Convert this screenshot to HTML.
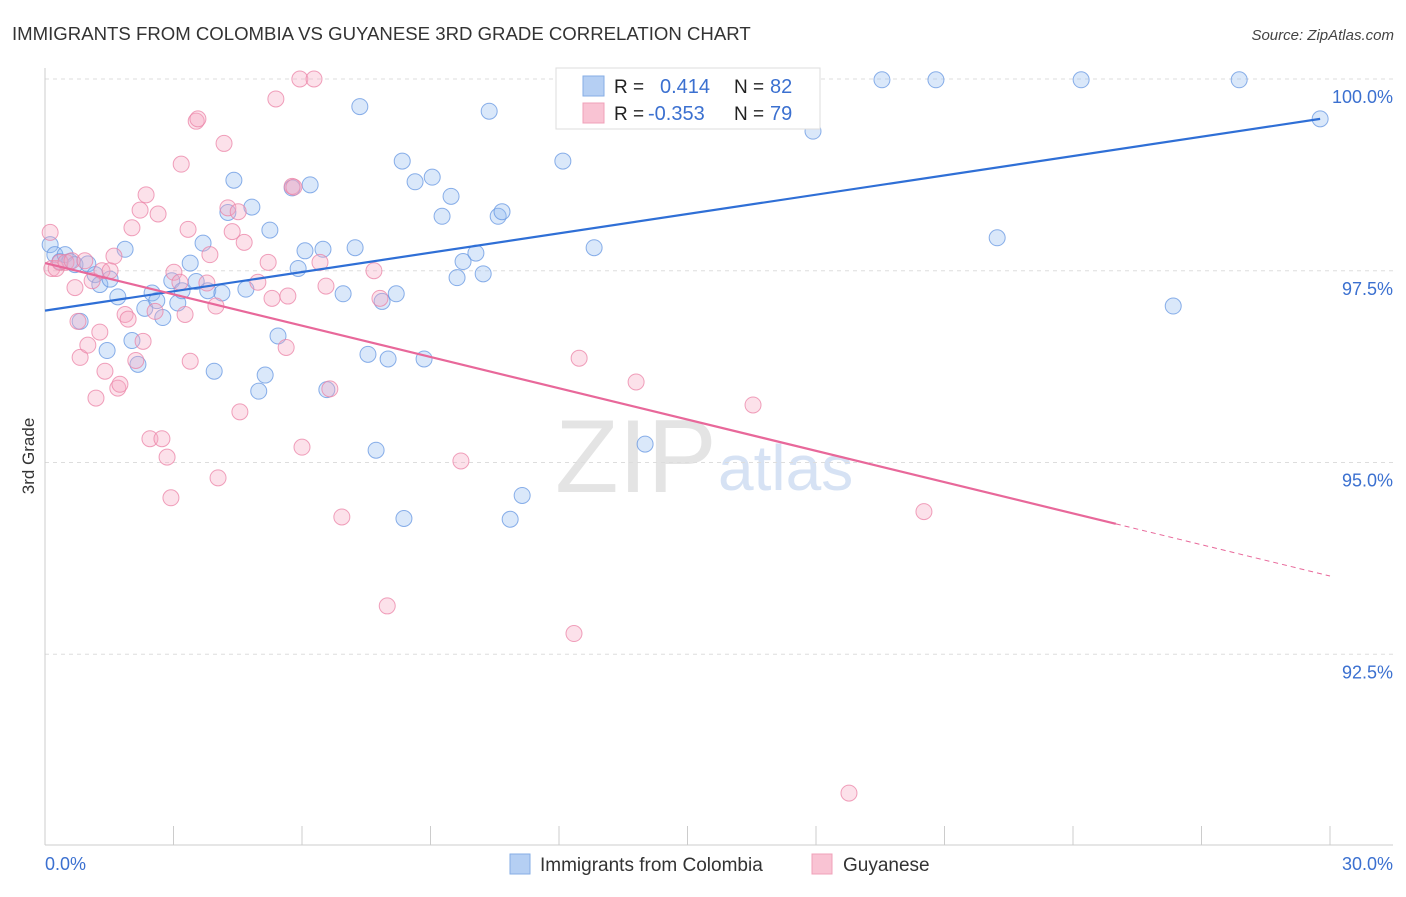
<!DOCTYPE html>
<html><head><meta charset="utf-8"><style>
body{margin:0;background:#fff;font-family:"Liberation Sans",sans-serif;}
svg text{font-family:"Liberation Sans",sans-serif;}
</style></head><body>
<svg id="chart" width="1406" height="892" xmlns="http://www.w3.org/2000/svg">
<text x="12" y="40" font-size="18.6" fill="#333">IMMIGRANTS FROM COLOMBIA VS GUYANESE 3RD GRADE CORRELATION CHART</text>
<text x="1394" y="40" font-size="15" fill="#444" font-style="italic" text-anchor="end">Source: ZipAtlas.com</text>
<text x="555" y="492" font-size="104" fill="#e4e4e4" font-family="Liberation Serif">ZIP</text>
<text x="718" y="490" font-size="64" fill="#d6e2f4">atlas</text>
<g id="grid"></g>
<g id="axes"></g>
<g id="pts"></g>
<g id="trend"></g>
<text x="34" y="456" font-size="17" fill="#333" text-anchor="middle" transform="rotate(-90 34 456)">3rd Grade</text>
<text x="45" y="870" font-size="18" fill="#3b70d0">0.0%</text>
<text x="1393" y="870" font-size="18" fill="#3b70d0" text-anchor="end">30.0%</text>
<g>
<rect x="556" y="68" width="264" height="61" fill="#fff" stroke="#ddd"/>
<rect x="583" y="76" width="21" height="20" fill="#b5cff3" stroke="#86aee6"/>
<rect x="583" y="103" width="21" height="20" fill="#f9c3d3" stroke="#f0a0b8"/>
<text x="614" y="93" font-size="19" fill="#222">R =</text>
<text x="660" y="93" font-size="20" fill="#3b70d0">0.414</text>
<text x="734" y="93" font-size="19" fill="#222">N =</text>
<text x="770" y="93" font-size="20" fill="#3b70d0">82</text>
<text x="614" y="120" font-size="19" fill="#222">R =</text>
<text x="648" y="120" font-size="20" fill="#3b70d0">-0.353</text>
<text x="734" y="120" font-size="19" fill="#222">N =</text>
<text x="770" y="120" font-size="20" fill="#3b70d0">79</text>
</g>
<g>
<rect x="510" y="854" width="20" height="20" fill="#b5cff3" stroke="#86aee6"/>
<text x="540" y="871" font-size="19" fill="#333">Immigrants from Colombia</text>
<rect x="812" y="854" width="20" height="20" fill="#f9c3d3" stroke="#f0a0b8"/>
<text x="843" y="871" font-size="19" fill="#333">Guyanese</text>
</g>
</svg>
<script>
const yTicks=[100,97.5,95,92.5];
const yTickLabels=["100.0%","97.5%","95.0%","92.5%"];
const xTicks=[0,3,6,9,12,15,18,21,24,27,30];
const blueX=[0.12,0.23,0.35,0.47,0.58,0.70,1.00,1.17,1.28,1.52,1.70,1.87,0.82,1.45,2.03,2.17,2.33,2.50,2.61,2.75,2.96,3.10,3.20,3.39,3.53,3.69,3.80,3.95,4.13,4.27,4.41,4.69,4.83,4.99,5.14,5.25,5.44,5.77,5.91,6.07,6.19,6.49,6.58,6.96,7.24,7.35,7.54,7.73,7.87,8.01,8.20,8.34,8.38,8.64,8.85,9.04,9.27,9.48,9.62,9.76,10.06,10.23,10.37,10.58,10.67,10.86,11.14,12.09,12.82,14.01,13.85,15.29,17.93,19.54,20.80,22.23,24.19,26.34,27.88,29.77];
const blueY=[97.84,97.71,97.62,97.71,97.62,97.58,97.59,97.45,97.32,97.39,97.16,97.78,96.84,96.46,96.59,96.28,97.01,97.21,97.11,96.89,97.37,97.08,97.24,97.60,97.36,97.86,97.24,96.19,97.21,98.26,98.68,97.26,98.33,95.93,96.14,98.03,96.65,98.58,97.53,97.76,98.62,97.78,95.95,97.20,97.80,99.64,96.41,95.16,97.10,96.35,97.20,98.93,94.27,98.66,96.35,98.72,98.21,98.47,97.41,97.62,97.73,97.46,99.58,98.21,98.27,94.26,94.57,98.93,97.80,95.24,99.99,99.99,99.32,99.99,99.99,97.93,99.99,97.04,99.99,99.48];
const pinkX=[0.12,0.16,0.26,0.35,0.49,0.63,0.70,0.77,0.82,0.93,1.00,1.10,1.19,1.28,1.33,1.40,1.52,1.61,1.70,1.75,1.87,1.94,2.03,2.12,2.22,2.29,2.36,2.45,2.57,2.64,2.73,2.85,2.94,3.01,3.15,3.18,3.27,3.34,3.39,3.53,3.57,3.78,3.85,3.99,4.04,4.18,4.27,4.37,4.51,4.55,4.65,4.97,5.21,5.30,5.39,5.63,5.67,5.77,5.81,6.00,5.95,6.28,6.42,6.56,6.65,6.93,7.68,7.82,7.99,9.71,12.35,12.47,13.80,16.53,18.77,20.52];
const pinkY=[98.00,97.53,97.53,97.61,97.61,97.63,97.28,96.84,96.37,97.63,96.53,97.37,95.84,96.70,97.50,96.19,97.50,97.69,95.97,96.02,96.93,96.87,98.06,96.33,98.29,96.58,98.49,95.31,96.97,98.24,95.31,95.07,94.54,97.48,97.35,98.89,96.93,98.04,96.32,99.45,99.48,97.34,97.71,97.04,94.80,99.16,98.32,98.01,98.27,95.66,97.87,97.35,97.61,97.14,99.74,96.50,97.17,98.60,98.59,95.20,100.0,100.0,97.61,97.30,95.96,94.29,97.50,97.14,93.13,95.02,92.77,96.36,96.05,95.75,90.69,94.36];
const X0=45,X1=1330,YT=79,PX1=76.7;
const sx=v=>X0+(X1-X0)*v/30;
const sy=v=>YT+(100-v)*PX1;
const NS="http://www.w3.org/2000/svg";
function mk(tag,attrs,parent){const e=document.createElementNS(NS,tag);for(const k in attrs)e.setAttribute(k,attrs[k]);document.getElementById(parent).appendChild(e);return e;}
yTicks.forEach((t,i)=>{
 const l=mk('line',{x1:45,x2:1393,y1:sy(t),y2:sy(t),stroke:'#ddd','stroke-dasharray':'4 4'},'grid');
 
 
 const tx=mk('text',{x:1393,y:sy(t)+24,'font-size':18,fill:'#3b70d0','text-anchor':'end'},'grid');
 tx.textContent=yTickLabels[i];
 
 
});
const ax=mk('line',{x1:45,x2:45,y1:68,y2:845,stroke:'#ccc'},'axes');


const bx=mk('line',{x1:45,x2:1393,y1:845,y2:845,stroke:'#ccc'},'axes');


xTicks.forEach(t=>{
 const l=mk('line',{x1:sx(t),x2:sx(t),y1:826,y2:845,stroke:'#ccc'},'axes');
 
 
});
blueX.forEach((v,i)=>{
 const c=mk('circle',{cx:sx(v),cy:sy(blueY[i]),r:8,fill:'rgba(150,188,240,0.35)',stroke:'rgba(100,150,225,0.75)','stroke-width':1},'pts');
 
 
});
pinkX.forEach((v,i)=>{
 const c=mk('circle',{cx:sx(v),cy:sy(pinkY[i]),r:8,fill:'rgba(246,170,195,0.35)',stroke:'rgba(235,130,165,0.75)','stroke-width':1},'pts');
 
 
});
const bl=mk('line',{x1:sx(0),y1:sy(96.98),x2:sx(29.77),y2:sy(99.48),stroke:'#2f6fd6','stroke-width':2.2},'trend');


const pl=mk('line',{x1:sx(0),y1:sy(97.6),x2:sx(25),y2:sy(94.2),stroke:'#e8689a','stroke-width':2.2},'trend');


const pd=mk('line',{x1:sx(25),y1:sy(94.2),x2:sx(30),y2:sy(93.52),stroke:'#e8689a','stroke-width':1,'stroke-dasharray':'5 4'},'trend');


</script>
</body></html>
